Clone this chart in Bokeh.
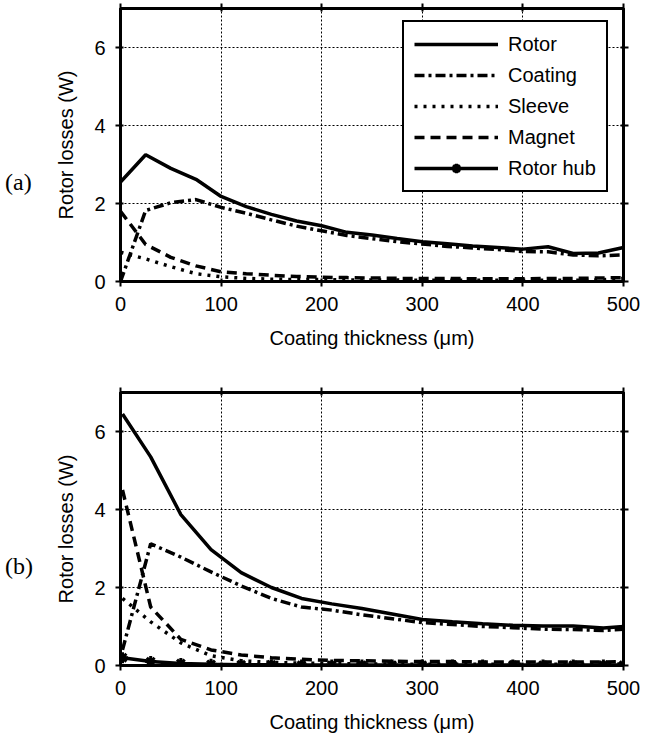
from bokeh.plotting import figure
from bokeh.models import Range1d, LinearAxis, FixedTicker, Legend, LegendItem, ColumnDataSource, Div
from bokeh.layouts import column, row
from bokeh.embed import file_html
from bokeh.resources import INLINE

NAN = float("nan")

# ---------------- data ----------------
x_ticks = [0, 100, 200, 300, 400, 500]
y_ticks = [0, 2, 4, 6]
series_names = ["Rotor", "Coating", "Sleeve", "Magnet", "Rotor hub"]
panel_tags = ["(a)", "(b)"]

# (a)
x_a = [0, 25, 50, 75, 100, 125, 150, 175, 200, 225, 250, 275, 300, 325, 350, 375, 400, 425, 450, 475, 500]
rotor_a = [2.55, 3.25, 2.9, 2.62, 2.18, 1.92, 1.72, 1.55, 1.43, 1.26, 1.19, 1.1, 1.02, 0.97, 0.91, 0.87, 0.83, 0.89, 0.72, 0.73, 0.87]
coating_a = [0.0, 1.82, 2.02, 2.1, 1.9, 1.75, 1.58, 1.42, 1.3, 1.18, 1.1, 1.02, 0.96, 0.9, 0.86, 0.82, 0.77, 0.76, 0.68, 0.66, 0.68]
sleeve_a = [0.75, 0.58, 0.38, 0.2, 0.12, 0.08, 0.06, 0.05, 0.05, 0.04, 0.04, 0.04, 0.03, 0.03, 0.03, 0.03, 0.03, 0.03, 0.03, 0.04, 0.08]
magnet_a = [1.8, 0.95, 0.62, 0.4, 0.25, 0.2, 0.16, 0.13, 0.11, 0.1, 0.09, 0.08, 0.08, 0.08, 0.07, 0.07, 0.07, 0.08, 0.08, 0.09, 0.1]
# rotor hub is not visible in panel (a): no values shown
hub_a = [NAN, NAN, NAN, NAN, NAN, NAN, NAN, NAN, NAN, NAN, NAN, NAN, NAN, NAN, NAN, NAN, NAN, NAN, NAN, NAN, NAN]

# (b)
x_b = [2, 30, 60, 90, 120, 150, 180, 210, 240, 270, 300, 330, 360, 390, 420, 450, 480, 500]
rotor_b = [6.45, 5.35, 3.87, 2.97, 2.38, 2.0, 1.72, 1.58, 1.46, 1.32, 1.18, 1.12, 1.07, 1.03, 1.01, 1.01, 0.96, 1.0]
coating_b = [0.4, 3.12, 2.78, 2.4, 2.04, 1.72, 1.5, 1.42, 1.3, 1.2, 1.1, 1.05, 1.0, 0.97, 0.93, 0.92, 0.9, 0.93]
sleeve_b = [1.72, 1.12, 0.58, 0.25, 0.12, 0.08, 0.06, 0.05, 0.04, 0.04, 0.03, 0.03, 0.03, 0.03, 0.03, 0.03, 0.03, 0.04]
magnet_b = [4.5, 1.5, 0.67, 0.4, 0.27, 0.2, 0.16, 0.13, 0.12, 0.11, 0.1, 0.1, 0.09, 0.09, 0.09, 0.09, 0.09, 0.1]
hub_b = [0.2, 0.1, 0.05, 0.03, 0.02, 0.02, 0.01, 0.01, 0.01, 0.01, 0.01, 0.01, 0.01, 0.01, 0.01, 0.01, 0.01, 0.01]

FONT = "Liberation Sans"
SERIF = "Liberation Serif"
LW = 3.5
TAG_W = 48


def style_axis(ax, labels=True, ticks=None):
    ax.axis_line_width = 3
    ax.axis_line_color = "black"
    ax.major_tick_line_width = 2
    ax.major_tick_line_color = "black"
    ax.major_tick_in = 3
    ax.major_tick_out = 5
    ax.minor_tick_line_color = None
    ax.major_label_text_font = FONT
    ax.major_label_text_color = "black"
    ax.axis_label_text_font = FONT
    ax.axis_label_text_font_style = "normal"
    ax.axis_label_text_font_size = "20px"
    ax.axis_label_text_color = "black"
    if labels:
        ax.major_label_text_font_size = "20px"
    else:
        ax.major_label_overrides = {t: "" for t in ticks}
        ax.major_label_standoff = 0


def make_fig(xs, rotor, coating, sleeve, magnet, hub, bottom_border, with_legend):
    p = figure(frame_width=503, frame_height=273,
               x_range=Range1d(0, 500), y_range=Range1d(0, 7),
               output_backend="svg", toolbar_location=None,
               min_border_left=120 - TAG_W, min_border_right=21,
               min_border_top=8, min_border_bottom=bottom_border)
    p.outline_line_color = "black"
    p.outline_line_width = 3
    p.background_fill_color = "white"
    p.border_fill_color = "white"

    xt = FixedTicker(ticks=x_ticks)
    yt = FixedTicker(ticks=y_ticks)
    p.xaxis.ticker = xt
    p.yaxis.ticker = yt
    p.xaxis.major_label_standoff = 10
    p.xaxis.axis_label_standoff = 13
    p.yaxis.major_label_standoff = 10
    p.yaxis.axis_label_standoff = 14
    p.xaxis.axis_label = "Coating thickness (μm)"
    p.yaxis.axis_label = "Rotor losses (W)"
    for ax in p.xaxis + p.yaxis:
        style_axis(ax)

    top = LinearAxis(ticker=FixedTicker(ticks=x_ticks))
    right = LinearAxis(ticker=FixedTicker(ticks=y_ticks))
    style_axis(top, labels=False, ticks=x_ticks)
    style_axis(right, labels=False, ticks=y_ticks)
    p.add_layout(top, "above")
    p.add_layout(right, "right")

    for g in (p.xgrid, p.ygrid):
        g.grid_line_color = "black"
        g.grid_line_width = 1
        g.grid_line_dash = "2 2"
    p.xgrid.ticker = xt
    p.ygrid.ticker = yt

    src = ColumnDataSource(dict(x=xs, rotor=rotor, coating=coating, sleeve=sleeve,
                                magnet=magnet, hub=hub))

    r_rotor = p.line("x", "rotor", source=src, line_color="black", line_width=LW)
    r_coat = p.line("x", "coating", source=src, line_color="black", line_width=LW, line_dash="10 4 3 4")
    r_sleeve = p.line("x", "sleeve", source=src, line_color="black", line_width=LW, line_dash="3 6")
    r_mag = p.line("x", "magnet", source=src, line_color="black", line_width=LW, line_dash="10 6")
    r_hub = p.line("x", "hub", source=src, line_color="black", line_width=LW)
    r_hubm = p.scatter("x", "hub", source=src, marker="asterisk", size=11,
                       line_color="black", line_width=3)

    if with_legend:
        items = [
            LegendItem(label=series_names[0], renderers=[r_rotor]),
            LegendItem(label=series_names[1], renderers=[r_coat]),
            LegendItem(label=series_names[2], renderers=[r_sleeve]),
            LegendItem(label=series_names[3], renderers=[r_mag]),
            LegendItem(label=series_names[4], renderers=[r_hub, r_hubm]),
        ]
        leg = Legend(items=items, location=(282, 89), margin=0, padding=10,
                     spacing=7, glyph_width=84, glyph_height=24, label_height=24,
                     label_standoff=10, label_text_font=FONT, label_text_font_size="20px",
                     label_text_color="black",
                     border_line_color="black", border_line_width=2, border_line_alpha=1.0,
                     background_fill_color="white", background_fill_alpha=1.0)
        p.add_layout(leg, "center")
    return p


def tag_div(tag, height):
    html = ('<div style="margin-top:168px;margin-left:5px;font-family:\'Liberation Serif\';'
            'font-size:24px;line-height:28px;color:black;">%s</div>' % tag)
    return Div(text=html, width=TAG_W, height=height, margin=0)


pa = make_fig(x_a, rotor_a, coating_a, sleeve_a, magnet_a, hub_a, 103, True)
pb = make_fig(x_b, rotor_b, coating_b, sleeve_b, magnet_b, hub_b, 60, False)
pa.margin = 0
pb.margin = 0

layout = column(row(tag_div(panel_tags[0], 384), pa, spacing=0),
                row(tag_div(panel_tags[1], 341), pb, spacing=0), spacing=0)
open("out.html", "w").write(file_html(layout, INLINE))
